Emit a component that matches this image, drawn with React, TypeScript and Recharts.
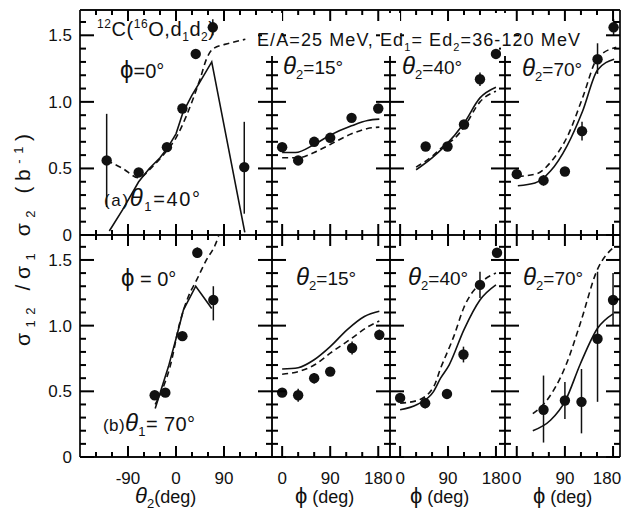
import { ComposedChart, Line, Scatter, XAxis, YAxis, ErrorBar } from 'recharts';

const W = 624;
const H = 514;
const colEdges = [80, 272, 390, 505, 620];
const rowEdges = [10, 235, 457];
const FONT = '"Liberation Sans", Arial, sans-serif';
const INK = '#111';

// axes
const yDomain: [number, number] = [0, 1.69];
const yTicks = [0, 0.1, 0.2, 0.3, 0.4, 0.5, 0.6, 0.7, 0.8, 0.9, 1.0, 1.1, 1.2, 1.3, 1.4, 1.5, 1.6];
const yMajor = [0, 0.5, 1.0, 1.5];
const theta2Domain: [number, number] = [-180, 180];
const theta2Ticks = [-150, -120, -90, -60, -30, 0, 30, 60, 90, 120, 150];
const theta2Major = [-90, 0, 90];
const phiDomains: [number, number][] = [[-19, 202], [-19, 197], [-22, 193]];
const phiTicks = [0, 30, 60, 90, 120, 150, 180];
const phiMajor = [0, 90, 180];

// [x, y, errDown, errUp]
type Pt = number[];

// (a) theta1 = 40 deg
const aPhi0Pts: Pt[] = [[-130, 0.56, 0.35, 0.35], [-70, 0.47], [-17, 0.66], [12, 0.95], [37, 1.36], [69, 1.56, 0.06, 0.06], [128, 0.51, 0.35, 0.34]];
const aPhi0Solid: Pt[] = [[-125, 0.03], [-100, 0.19], [-70, 0.4], [-50, 0.5], [-30, 0.58], [-15, 0.66], [0, 0.76], [13, 0.92], [30, 1.05], [45, 1.15], [67, 1.3], [129, 0.02]];
const aPhi0Dashed: Pt[] = [[-130, 0.56], [-100, 0.5], [-70, 0.43], [-45, 0.51], [-20, 0.62], [0, 0.73], [20, 0.9], [45, 1.17], [58, 1.33], [70, 1.4], [100, 1.44], [130, 1.47]];

const a15Pts: Pt[] = [[0, 0.66], [30, 0.56], [60, 0.7], [90, 0.73], [130, 0.88], [180, 0.95]];
const a15Solid: Pt[] = [[0, 0.62], [25, 0.62], [60, 0.68], [90, 0.75], [130, 0.82], [160, 0.86], [182, 0.87]];
const a15Dashed: Pt[] = [[0, 0.58], [30, 0.58], [60, 0.62], [90, 0.68], [130, 0.76], [160, 0.8], [182, 0.81]];

const a40Pts: Pt[] = [[48, 0.665], [89, 0.665], [120, 0.83], [150, 1.17, 0.05, 0.05], [180, 1.36]];
const a40Solid: Pt[] = [[30, 0.49], [60, 0.58], [82, 0.66], [120, 0.84], [150, 1.03], [180, 1.11]];
const a40Dashed: Pt[] = [[30, 0.51], [60, 0.59], [82, 0.67], [101, 0.72], [120, 0.81], [150, 1.0], [180, 1.08]];

const a70Pts: Pt[] = [[0, 0.457, 0.03, 0.03], [50, 0.41, 0.04, 0.04], [90, 0.477], [122, 0.78, 0.07, 0.07], [151, 1.32, 0.11, 0.12], [181, 1.56, 0.06, 0.06]];
const a70Solid: Pt[] = [[2, 0.37], [34, 0.39], [63, 0.48], [94, 0.67], [123, 0.93], [151, 1.24], [182, 1.32]];
const a70Dashed: Pt[] = [[2, 0.44], [37, 0.46], [66, 0.56], [97, 0.76], [123, 1.03], [151, 1.33], [186, 1.41]];

// (b) theta1 = 70 deg
const bPhi0Pts: Pt[] = [[-40, 0.47], [-20, 0.49], [12, 0.92, 0.03, 0.03], [40, 1.555, 0.04, 0.04], [70, 1.195, 0.155, 0.105]];
const bPhi0Solid: Pt[] = [[-39, 0.37], [-30, 0.485], [-14, 0.69], [0, 0.9], [14, 1.12], [37, 1.3], [67, 1.13]];
const bPhi0Dashed: Pt[] = [[-39, 0.4], [-25, 0.52], [-11, 0.69], [7, 1.02], [23, 1.22], [39, 1.35], [57, 1.5], [73, 1.61], [80, 1.68]];

const b15Pts: Pt[] = [[0, 0.49], [30, 0.47, 0.05, 0.05], [60, 0.6, 0.04, 0.04], [90, 0.65], [131, 0.83, 0.05, 0.05], [182, 0.93, 0.04, 0.04]];
const b15Solid: Pt[] = [[0, 0.67], [30, 0.68], [60, 0.74], [90, 0.84], [122, 0.97], [154, 1.07], [182, 1.11]];
const b15Dashed: Pt[] = [[0, 0.63], [30, 0.65], [60, 0.7], [90, 0.79], [129, 0.9], [160, 0.99], [182, 1.035]];

const b40Pts: Pt[] = [[0, 0.45], [47, 0.41, 0.04, 0.04], [88, 0.48], [119, 0.78, 0.06, 0.06], [150, 1.31, 0.1, 0.1], [182, 1.555]];
const b40Solid: Pt[] = [[0, 0.36], [32, 0.4], [63, 0.5], [76, 0.6], [92, 0.7], [120, 0.97], [150, 1.195], [180, 1.31]];
const b40Dashed: Pt[] = [[0, 0.41], [32, 0.43], [63, 0.535], [76, 0.675], [101, 0.92], [120, 1.14], [150, 1.32], [180, 1.4]];

const b70Pts: Pt[] = [[50, 0.36, 0.25, 0.26], [90, 0.43, 0.14, 0.14], [121, 0.42, 0.24, 0.25], [151, 0.9, 0.48, 0.51], [180, 1.195, 0.195, 0.205]];
const b70Solid: Pt[] = [[30, 0.2], [63, 0.28], [91, 0.43], [119, 0.71], [151, 0.98], [180, 1.09]];
const b70Dashed: Pt[] = [[30, 0.33], [56, 0.43], [91, 0.69], [119, 1.02], [150, 1.42], [182, 1.6]];

const toPts = (a: Pt[]) => a.map(([x, y, lo = 0, hi = 0]) => ({ x, y, err: [lo, hi] }));
const toLine = (a: Pt[]) => a.map(([x, y]) => ({ x, y }));

type PanelDef = {
  col: number; row: number; domain: [number, number]; ticks: number[]; majors: number[];
  pts: Pt[]; solid: Pt[]; dashed: Pt[]; kinked?: boolean;
};

const panels: PanelDef[] = [
  { col: 0, row: 0, domain: theta2Domain, ticks: theta2Ticks, majors: theta2Major, pts: aPhi0Pts, solid: aPhi0Solid, dashed: aPhi0Dashed, kinked: true },
  { col: 1, row: 0, domain: phiDomains[0], ticks: phiTicks, majors: phiMajor, pts: a15Pts, solid: a15Solid, dashed: a15Dashed },
  { col: 2, row: 0, domain: phiDomains[1], ticks: phiTicks, majors: phiMajor, pts: a40Pts, solid: a40Solid, dashed: a40Dashed },
  { col: 3, row: 0, domain: phiDomains[2], ticks: phiTicks, majors: phiMajor, pts: a70Pts, solid: a70Solid, dashed: a70Dashed },
  { col: 0, row: 1, domain: theta2Domain, ticks: theta2Ticks, majors: theta2Major, pts: bPhi0Pts, solid: bPhi0Solid, dashed: bPhi0Dashed, kinked: true },
  { col: 1, row: 1, domain: phiDomains[0], ticks: phiTicks, majors: phiMajor, pts: b15Pts, solid: b15Solid, dashed: b15Dashed },
  { col: 2, row: 1, domain: phiDomains[1], ticks: phiTicks, majors: phiMajor, pts: b40Pts, solid: b40Solid, dashed: b40Dashed },
  { col: 3, row: 1, domain: phiDomains[2], ticks: phiTicks, majors: phiMajor, pts: b70Pts, solid: b70Solid, dashed: b70Dashed },
];

const isMajor = (v: number, majors: number[]) => majors.some((m) => Math.abs(m - v) < 1e-6);

// tick labels outside the frame
const xLabel = (edge: number, majors: number[]) => (props: any) => {
  const x = Number(props.x);
  const v = props.payload.value;
  if (!isMajor(v, majors)) return <g />;
  return (
    <text x={Math.min(x, 607)} y={edge + 27} textAnchor="middle" fontSize={17} fontFamily={FONT} fill={INK} stroke="none">
      {v}
    </text>
  );
};

const yLabel = (edge: number) => (props: any) => {
  const y = Number(props.y);
  const v = props.payload.value;
  if (!isMajor(v, yMajor)) return <g />;
  return (
    <text x={edge - 8} y={y + 6} textAnchor="end" fontSize={17} fontFamily={FONT} fill={INK} stroke="none">
      {v === 0 ? '0' : v.toFixed(1)}
    </text>
  );
};

const frame = { stroke: INK, strokeWidth: 1.8 };
const X_MAJ = 11, X_MIN = 5, Y_MAJ = 14, Y_MIN = 6, TW = 2;

const bounds = (p: PanelDef) => ({
  x0: colEdges[p.col], x1: colEdges[p.col + 1], y0: rowEdges[p.row], y1: rowEdges[p.row + 1],
});

// inward tick marks along the four sides of a panel frame (same linear mapping as the chart axes)
function FrameTicks({ p }: { p: PanelDef }) {
  const { x0, x1, y0, y1 } = bounds(p);
  const [d0, d1] = p.domain;
  const [v0, v1] = yDomain;
  const sx = (t: number) => x0 + ((t - d0) / (d1 - d0)) * (x1 - x0);
  const sy = (v: number) => y1 - ((v - v0) / (v1 - v0)) * (y1 - y0);
  const boxes: number[][] = [];
  p.ticks.forEach((t) => {
    const l = isMajor(t, p.majors) ? X_MAJ : X_MIN;
    boxes.push([sx(t) - TW / 2, y1 - l, TW, l]);
    boxes.push([sx(t) - TW / 2, y0, TW, l]);
  });
  yTicks.forEach((v) => {
    const l = isMajor(v, yMajor) ? Y_MAJ : Y_MIN;
    boxes.push([x0, sy(v) - TW / 2, l, TW]);
    boxes.push([x1 - l, sy(v) - TW / 2, l, TW]);
  });
  return (
    <g>
      {boxes.map(([x, y, w, h], i) => <rect key={i} x={x} y={y} width={w} height={h} fill="#000" />)}
    </g>
  );
}

function Panel({ p }: { p: PanelDef }) {
  const { x0, x1, y0, y1 } = bounds(p);
  const xCommon = { dataKey: 'x', type: 'number' as const, domain: p.domain, allowDataOverflow: true, interval: 0 as const, mirror: true, axisLine: frame, tickLine: false, ticks: p.ticks };
  const yCommon = { dataKey: 'y', type: 'number' as const, domain: yDomain, allowDataOverflow: true, interval: 0 as const, mirror: true, axisLine: frame, tickLine: false, ticks: yTicks };
  return (
    <div style={{ position: 'absolute', left: 0, top: 0 }}>
      <ComposedChart width={W} height={H} margin={{ top: y0, left: x0, right: W - x1, bottom: H - y1 }}>
        <XAxis xAxisId="b" orientation="bottom" {...xCommon} tick={p.row === 1 ? xLabel(y1, p.majors) : false} />
        <XAxis xAxisId="t" orientation="top" {...xCommon} tick={false} />
        <YAxis yAxisId="l" orientation="left" {...yCommon} tick={p.col === 0 ? yLabel(x0) : false} />
        <YAxis yAxisId="r" orientation="right" {...yCommon} tick={false} />
        <Line data={toLine(p.solid)} dataKey="y" xAxisId="b" yAxisId="l" type={p.kinked ? 'linear' : 'monotone'}
          stroke={INK} strokeWidth={1.6} dot={false} activeDot={false} isAnimationActive={false} />
        <Line data={toLine(p.dashed)} dataKey="y" xAxisId="b" yAxisId="l" type="monotone"
          stroke={INK} strokeWidth={1.6} strokeDasharray="6 4" dot={false} activeDot={false} isAnimationActive={false} />
        <Scatter data={toPts(p.pts)} dataKey="y" xAxisId="b" yAxisId="l" isAnimationActive={false}
          shape={(s: any) => <circle cx={s.cx} cy={s.cy} r={5.2} fill={INK} />}>
          <ErrorBar dataKey="err" direction="y" width={0} stroke={INK} strokeWidth={1.5} isAnimationActive={false} />
        </Scatter>
      </ComposedChart>
    </div>
  );
}

const sub = (t: string, fs = 12, d = 5) => <tspan fontSize={fs} dy={d}>{t}</tspan>;

// annotation strings
const thetaPanels: [number, number, string][] = [
  [283, 74, '15'], [402, 74, '40'], [522, 76, '70'],
  [296, 285, '15'], [408, 285, '40'], [523, 285, '70'],
];
const phiTitleX = [295, 410, 533];

export default function App() {
  return (
    <div style={{ position: 'absolute', left: 0, top: 0, width: W, height: H, background: '#fff', fontFamily: FONT }}>
      {panels.map((p, i) => <Panel key={i} p={p} />)}
      <svg width={W} height={H} style={{ position: 'absolute', left: 0, top: 0, pointerEvents: 'none' }}
        fontFamily={FONT} fill={INK}>
        {panels.map((p, i) => <FrameTicks key={i} p={p} />)}
        {/* the separators stop below the heading line */}
        <rect x={262} y={13} width={20} height={43} fill="#fff" />
        <rect x={380} y={13} width={20} height={43} fill="#fff" />
        <rect x={490} y={13} width={24} height={30} fill="#fff" />
        <rect x={501} y={43} width={13} height={13} fill="#fff" />

        <text x={97} y={36} fontSize={20} textLength={118}>
          <tspan fontSize={12} dy={-8}>12</tspan>
          <tspan fontSize={20} dy={8}>C(</tspan>
          <tspan fontSize={12} dy={-8}>16</tspan>
          <tspan fontSize={20} dy={8}>O,d</tspan>
          <tspan fontSize={12} dy={5}>1</tspan>
          <tspan fontSize={20} dy={-5}>d</tspan>
          <tspan fontSize={12} dy={5}>2</tspan>
          <tspan fontSize={20} dy={-5}>)</tspan>
        </text>
        <text x={257} y={46} fontSize={18} textLength={323}>
          <tspan>E/A=25 MeV, E</tspan>
          <tspan>d</tspan>
          <tspan fontSize={11} dy={5}>1</tspan>
          <tspan dy={-5}>= E</tspan>
          <tspan>d</tspan>
          <tspan fontSize={11} dy={5}>2</tspan>
          <tspan dy={-5}>=36-120 MeV</tspan>
        </text>

        <text x={120} y={78} fontSize={20}>
          <tspan fontSize={24}>ϕ</tspan>=0°
        </text>
        <text x={104} y={206} fontSize={20} textLength={96}>
          <tspan fontSize={17}>(a)</tspan>
          <tspan fontSize={24} fontStyle="italic">θ</tspan>
          {sub('1', 13)}
          <tspan dy={-5}>=40°</tspan>
        </text>
        <text x={121} y={286} fontSize={20}>
          <tspan fontSize={24}>ϕ</tspan> = 0°
        </text>
        <text x={103} y={431} fontSize={20} textLength={92}>
          <tspan fontSize={17}>(b)</tspan>
          <tspan fontSize={24} fontStyle="italic">θ</tspan>
          {sub('1', 13)}
          <tspan dy={-5}>= 70°</tspan>
        </text>

        {thetaPanels.map(([x, y, v], i) => (
          <text key={i} x={x} y={y} fontSize={19}>
            <tspan fontSize={24} fontStyle="italic">θ</tspan>
            {sub('2', 13)}
            <tspan dy={-5}>={v}°</tspan>
          </text>
        ))}

        <text x={135} y={503} fontSize={18}>
          <tspan fontSize={22} fontStyle="italic">θ</tspan>
          {sub('2', 13)}
          <tspan dy={-5}>(deg)</tspan>
        </text>
        {phiTitleX.map((x, i) => (
          <text key={i} x={x} y={503} fontSize={18}>
            <tspan fontSize={22}>ϕ</tspan> (deg)
          </text>
        ))}

        <text x={30} y={240} fontSize={21} textAnchor="middle" textLength={212} transform="rotate(-90 30 240)">
          σ<tspan fontSize={13} dy={5}>12</tspan>
          <tspan dy={-5}> /σ</tspan>
          <tspan fontSize={13} dy={5}>1</tspan>
          <tspan dy={-5}> σ</tspan>
          <tspan fontSize={13} dy={5}>2</tspan>
          <tspan dy={-5}> (b</tspan>
          <tspan fontSize={13} dy={-7}>-1</tspan>
          <tspan dy={7}>)</tspan>
        </text>
      </svg>
    </div>
  );
}
